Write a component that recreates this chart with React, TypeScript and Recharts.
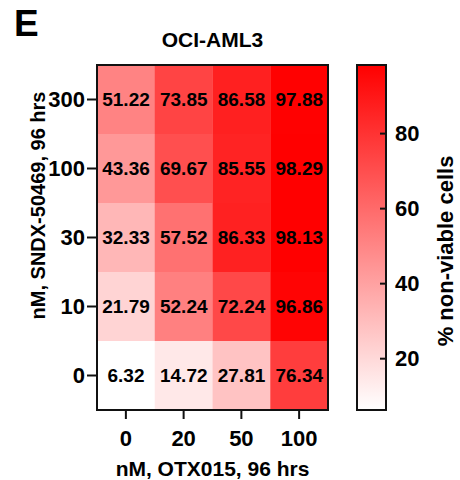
import React from 'react';
import { BarChart, Bar, XAxis, YAxis, Cell, LabelList, Label } from 'recharts';

const otxDoses = ['0', '20', '50', '100'];
const sndxDoses = ['0', '10', '30', '100', '300'];
// % non-viable cells per SNDX-50469 dose (columns follow otxDoses)
const sndx0 = [6.32, 14.72, 27.81, 76.34];
const sndx10 = [21.79, 52.24, 72.24, 96.86];
const sndx30 = [32.33, 57.52, 86.33, 98.13];
const sndx100 = [43.36, 69.67, 85.55, 98.29];
const sndx300 = [51.22, 73.85, 86.58, 97.88];
const scaleTicks = [20, 40, 60, 80];

const rows = [sndx0, sndx10, sndx30, sndx100, sndx300];
const allVals = rows.flat();
const vMin = Math.min(...allVals);
const vMax = Math.max(...allVals);

const heatColor = (v: number) => {
  const t = (v - vMin) / (vMax - vMin);
  const g = Math.round(255 * (1 - t));
  return `rgb(255,${g},${g})`;
};

// one row per OTX015 dose, each SNDX dose stacked as a unit-height cell
const tableData = otxDoses.map((dose, c) => {
  const row: any = { dose };
  rows.forEach((r, i) => {
    row[`r${i}`] = 1;
    row[`v${i}`] = r[c];
  });
  return row;
});

const scaleData = [{ name: 'scale', range: [vMin, vMax] }];

const ink = '#111';
const bold = { fill: '#000', fontWeight: 'bold' as const };

const HEAT_W = 340;
const HEAT_H = 480;
const Y_AXIS_W = 97;
const X_AXIS_H = 70;
const HEAT_MARGIN = { top: 65, right: 12, bottom: 0, left: 0 };

export default function App() {
  return (
    <div
      style={{
        position: 'fixed',
        left: 0,
        top: 0,
        width: 460,
        height: 480,
        background: '#fff',
        fontFamily: '"Liberation Sans", Arial, sans-serif',
      }}
    >
      {/* heat map cells */}
      <div style={{ position: 'absolute', left: 0, top: 0 }}>
        <BarChart
          width={HEAT_W}
          height={HEAT_H}
          data={tableData}
          margin={{
            ...HEAT_MARGIN,
            left: HEAT_MARGIN.left + Y_AXIS_W,
            bottom: HEAT_MARGIN.bottom + X_AXIS_H,
          }}
          barCategoryGap={0}
          barGap={0}
        >
          <XAxis dataKey="dose" hide />
          <YAxis type="number" domain={[0, 5]} hide />
          {rows.map((_, i) => (
            <Bar key={i} dataKey={`r${i}`} stackId="heat" isAnimationActive={false}>
              {tableData.map((d, c) => (
                <Cell key={c} fill={heatColor(d[`v${i}`])} />
              ))}
              <LabelList
                dataKey={`v${i}`}
                position="center"
                fill="#000"
                fontSize={19}
                fontWeight="bold"
                formatter={(v: any) => Number(v).toFixed(2)}
              />
            </Bar>
          ))}
        </BarChart>
      </div>

      {/* axes, frame and titles drawn over the cells */}
      <div style={{ position: 'absolute', left: 0, top: 0, pointerEvents: 'none' }}>
        <BarChart width={HEAT_W} height={HEAT_H} data={tableData} margin={HEAT_MARGIN}>
          <Bar dataKey="r0" fill="none" fillOpacity={0} isAnimationActive={false} />
          <XAxis
            dataKey="dose"
            height={X_AXIS_H}
            interval={0}
            tickSize={9}
            tickMargin={11}
            axisLine={{ stroke: ink, strokeWidth: 2 }}
            tickLine={{ stroke: ink, strokeWidth: 2 }}
            tick={{ ...bold, fontSize: 22 }}
          >
            <Label
              value="nM, OTX015, 96 hrs"
              position="insideBottom"
              offset={4}
              fill="#000"
              fontSize={21}
              fontWeight="bold"
            />
          </XAxis>
          <YAxis
            type="number"
            domain={[0, 5]}
            ticks={[0.5, 1.5, 2.5, 3.5, 4.5]}
            tickFormatter={(v: number) => sndxDoses[Math.floor(v)]}
            width={Y_AXIS_W}
            tickSize={10}
            tickMargin={2}
            axisLine={{ stroke: ink, strokeWidth: 2 }}
            tickLine={{ stroke: ink, strokeWidth: 2 }}
            tick={{ ...bold, fontSize: 22 }}
          >
            <Label
              content={({ viewBox }: any) => {
                const plotX = viewBox.x + viewBox.width;
                const plotW = HEAT_W - HEAT_MARGIN.right - plotX;
                return (
                  <g>
                    <rect
                      x={plotX}
                      y={viewBox.y}
                      width={plotW}
                      height={viewBox.height}
                      fill="none"
                      stroke={ink}
                      strokeWidth={2}
                    />
                    <text
                      transform={`translate(${viewBox.x + 45}, ${viewBox.y + viewBox.height / 2 - 32}) rotate(-90)`}
                      textAnchor="middle"
                      fontSize={20}
                      fontWeight="bold"
                      fill="#000"
                    >
                      nM, SNDX-50469, 96 hrs
                    </text>
                    <text x={14} y={36} fontSize={37} fontWeight="bold" fill="#000">
                      E
                    </text>
                    <text
                      x={plotX + plotW / 2}
                      y={47}
                      textAnchor="middle"
                      fontSize={21}
                      fontWeight="bold"
                      fill="#000"
                    >
                      OCI-AML3
                    </text>
                  </g>
                );
              }}
            />
          </YAxis>
        </BarChart>
      </div>

      <div style={{ position: 'absolute', left: 340, top: 0 }}>
        <BarChart
          width={120}
          height={480}
          data={scaleData}
          margin={{ top: 65, right: 0, bottom: 70, left: 17 }}
          barCategoryGap={0}
        >
          <defs>
            <linearGradient id="scaleGrad" x1="0" y1="0" x2="0" y2="1">
              <stop offset="0%" stopColor="rgb(255,0,0)" />
              <stop offset="100%" stopColor="#ffffff" />
            </linearGradient>
          </defs>
          <Bar
            dataKey="range"
            yAxisId="r"
            fill="url(#scaleGrad)"
            stroke={ink}
            strokeWidth={2}
            isAnimationActive={false}
          />
          <XAxis dataKey="name" hide />
          <YAxis
            yAxisId="l"
            orientation="left"
            type="number"
            domain={[vMin, vMax]}
            ticks={scaleTicks}
            width={0}
            tick={false}
            tickSize={-6}
            axisLine={false}
            tickLine={{ stroke: ink, strokeWidth: 2 }}
          />
          <YAxis
            yAxisId="r"
            orientation="right"
            type="number"
            domain={[vMin, vMax]}
            ticks={scaleTicks}
            width={74}
            tickSize={-6}
            tickMargin={15}
            axisLine={false}
            tickLine={{ stroke: ink, strokeWidth: 2 }}
            tick={{ ...bold, fontSize: 22 }}
          >
            <Label
              content={() => (
                <text
                  transform="translate(113, 251) rotate(-90)"
                  textAnchor="middle"
                  fontSize={22}
                  fontWeight="bold"
                  fill="#000"
                >
                  % non-viable cells
                </text>
              )}
            />
          </YAxis>
        </BarChart>
      </div>
    </div>
  );
}
